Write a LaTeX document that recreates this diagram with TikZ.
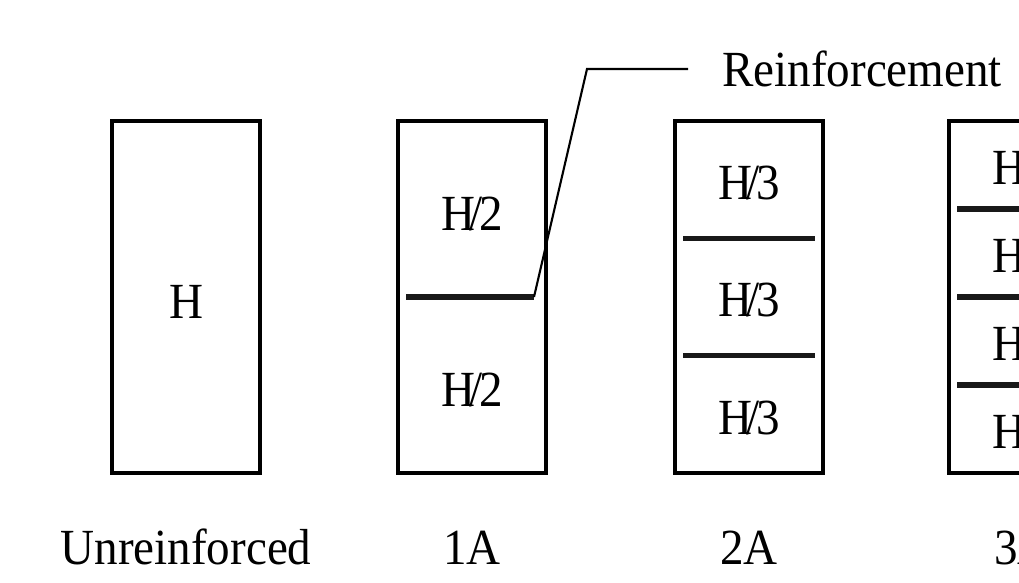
\documentclass[tikz,border=0pt]{standalone}
\usepackage{fontspec}
\setmainfont{Liberation Serif}[FakeStretch=0.93]
\usetikzlibrary{positioning}
\tikzset{
  wall/.style={draw=black, line width=2.4pt},
  layer/.style={black!90, line width=3.6pt},
  leader/.style={black, line width=1.5pt},
  lbl/.style={font=\fontsize{36}{40}\selectfont, inner sep=0pt}
}
\newcommand{\hpart}[1]{H\kern-.12em/\kern-.06em#1}
\begin{document}
\begin{tikzpicture}[scale=1.0]
      \useasboundingbox (0,0) rectangle (25.475,14.575);
      % unreinforced
      \begin{scope}[shift={(2.8,2.75)}]
        \draw[wall](0,0) rectangle (3.7,8.8);
        \node[lbl, anchor=base] (h0) at (1.85,3.85) {H};
        \node[lbl, anchor=base] (cap0) at (1.85,-2.3) {Unreinforced};
      \end{scope}
      % one layer
      \begin{scope}[shift={(9.95,2.75)}]
        \draw[wall](0,0) rectangle (3.7,8.8);
        \draw[layer](0.2,4.4) -- (3.4,4.4);
        \coordinate (r1) at (3.4,4.4);
        \node[lbl, anchor=base] (h1a) at (1.85,6.05) {\hpart{2}};
        \node[lbl, anchor=base] (h1b) at (1.85,1.65) {\hpart{2}};
        \node[lbl, anchor=base] (cap1) at (1.85,-2.3) {1A};
      \end{scope}
      % two layers
      \begin{scope}[shift={(16.875,2.75)}]
        \draw[wall](0,0) rectangle (3.7,8.8);
        \foreach \k in {1,2}
          \draw[layer](0.2,\k*2.933) -- (3.5,\k*2.933);
        \foreach \k in {0,1,2}
          \node[lbl, anchor=base] (h2\k) at (1.85,\k*2.933+0.97) {\hpart{3}};
        \node[lbl, anchor=base] (cap2) at (1.85,-2.3) {2A};
      \end{scope}
      % three layers
      \begin{scope}[shift={(23.725,2.75)}]
        \draw[wall](0,0) rectangle (3.7,8.8);
        \foreach \k in {1,2,3}
          \draw[layer](0.2,\k*2.2) -- (3.5,\k*2.2);
        \foreach \k in {0,1,2,3}
          \node[lbl, anchor=base] (h3\k) at (1.85,\k*2.2+0.6) {\hpart{4}};
        \node[lbl, anchor=base] (cap3) at (1.85,-2.3) {3A};
      \end{scope}
      % leader to the label
      \coordinate (bend) at (14.675,12.85);
      \coordinate (lead) at (17.2,12.85);
      \node[lbl, right=0.85cm of lead] (reinf) {Reinforcement};
      \draw[leader] (r1) -- (bend) -- (lead);
    \end{tikzpicture}
\end{document}
